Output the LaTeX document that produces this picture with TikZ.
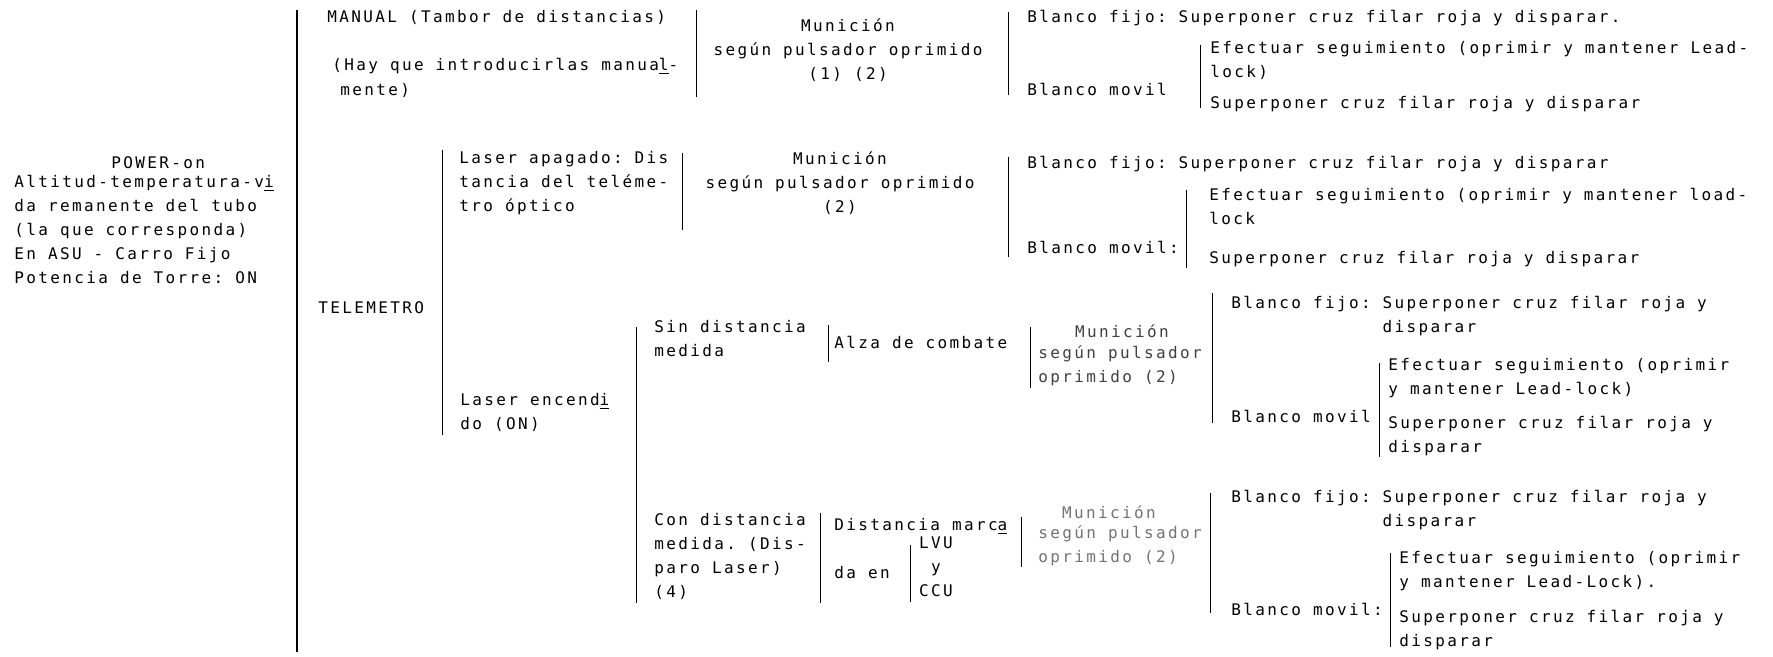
\documentclass[tikz,border=0pt]{standalone}
\usepackage{fontspec}
\newfontfamily\tw[LetterSpace=14.8]{DejaVu Sans Mono}
\frenchspacing
\begin{document}
\begin{tikzpicture}[x=0.5pt,y=-0.5pt,
    txt/.style={anchor=north west, yshift=5.9pt, inner sep=0pt, align=left,
      font=\tw\fontsize{8}{12}\selectfont, execute at begin node=\strut},
    ctr/.style={txt, anchor=north, align=center},
    brk/.style={line width=0.5pt},
    faint/.style={text=black!55}]
\useasboundingbox (0,0) rectangle (1773,657);
% left column
\node[txt] (power) at (111,163) {POWER-on};
\node[txt] (datos) at (14,187) {Altitud-temperatura-v\underline{i}\\da remanente del tubo\\(la que corresponda)\\En ASU - Carro Fijo\\Potencia de Torre: ON};
\draw[line width=0.8pt] (297,10) -- (297,652);
% MANUAL
\node[txt] (manual) at (327,17) {MANUAL (Tambor de distancias)};
\node[txt] (hay) at (332,65) {(Hay que introducirlas manua\underline{l}-};
\node[txt] (mente) at (340,90) {mente)};
\draw[brk] (696,10) -- (696,97);
\node[ctr] (mun1) at (848,30) {Munición\\según pulsador oprimido\\(1) (2)};
\draw[brk] (1008,12) -- (1008,95);
\node[txt] (fijo1) at (1027,17) {Blanco fijo: Superponer cruz filar roja y disparar.};
\node[txt] (movil1) at (1027,90) {Blanco movil};
\draw[brk] (1200,45) -- (1200,108);
\node[txt] (segui1) at (1210,53) {Efectuar seguimiento (oprimir y mantener Lead-\\lock)};
\node[txt] (cruz1) at (1210,103) {Superponer cruz filar roja y disparar};
% TELEMETRO
\node[txt] (tele) at (318,308) {TELEMETRO};
\draw[brk] (442,150) -- (442,435);
\node[txt] (apagado) at (459,163) {Laser apagado: Dis\\tancia del teléme-\\tro óptico};
\draw[brk] (682,153) -- (682,230);
\node[ctr] (mun2) at (840,163) {Munición\\según pulsador oprimido\\(2)};
\draw[brk] (1008,157) -- (1008,257);
\node[txt] (fijo2) at (1027,163) {Blanco fijo: Superponer cruz filar roja y disparar};
\node[txt] (movil2) at (1027,248) {Blanco movil:};
\draw[brk] (1186,190) -- (1186,268);
\node[txt] (segui2) at (1209,200) {Efectuar seguimiento (oprimir y mantener load-\\lock};
\node[txt] (cruz2) at (1209,258) {Superponer cruz filar roja y disparar};
% laser encendido
\node[txt] (encendido) at (460,405) {Laser encend\underline{i}\\do (ON)};
\draw[brk] (636,327) -- (636,603);
\node[txt] (sin) at (654,332) {Sin distancia\\medida};
\draw[brk] (828,325) -- (828,362);
\node[txt] (alza) at (834,343) {Alza de combate};
\draw[brk] (1030,327) -- (1030,388);
\node[ctr,text=black!75] (mun3) at (1122,332) {Munición};
\node[txt,text=black!75] (pul3) at (1038,357) {según pulsador\\oprimido (2)};
\draw[brk] (1212,293) -- (1212,423);
\node[txt] (fijo3) at (1231,308) {Blanco fijo: Superponer cruz filar roja y\\\phantom{Blanco fijo: }disparar};
\node[txt] (movil3) at (1231,417) {Blanco movil};
\draw[brk] (1379,363) -- (1379,457);
\node[txt] (segui3) at (1388,370) {Efectuar seguimiento (oprimir\\y mantener Lead-lock)};
\node[txt] (cruz3) at (1388,428) {Superponer cruz filar roja y\\disparar};
\node[txt] (con) at (654,525) {Con distancia\\medida. (Dis-\\paro Laser)\\(4)};
\draw[brk] (820,513) -- (820,603);
\node[txt] (marca) at (834,525) {Distancia marc\underline{a}};
\node[txt] (daen) at (834,573) {da en};
\draw[brk] (910,545) -- (910,602);
\node[ctr] (lvu) at (936,548) {LVU\\y\\CCU};
\draw[brk] (1021,517) -- (1021,567);
\node[ctr,faint] (mun4) at (1109,513) {Munición};
\node[txt,faint] (pul4) at (1038,537) {según pulsador\\oprimido (2)};
\draw[brk] (1210,493) -- (1210,613);
\node[txt] (fijo4) at (1231,502) {Blanco fijo: Superponer cruz filar roja y\\\phantom{Blanco fijo: }disparar};
\node[txt] (movil4) at (1231,610) {Blanco movil:};
\draw[brk] (1390,553) -- (1390,647);
\node[txt] (segui4) at (1399,563) {Efectuar seguimiento (oprimir\\y mantener Lead-Lock).};
\node[txt] (cruz4) at (1399,622) {Superponer cruz filar roja y\\disparar};
\end{tikzpicture}
\end{document}
